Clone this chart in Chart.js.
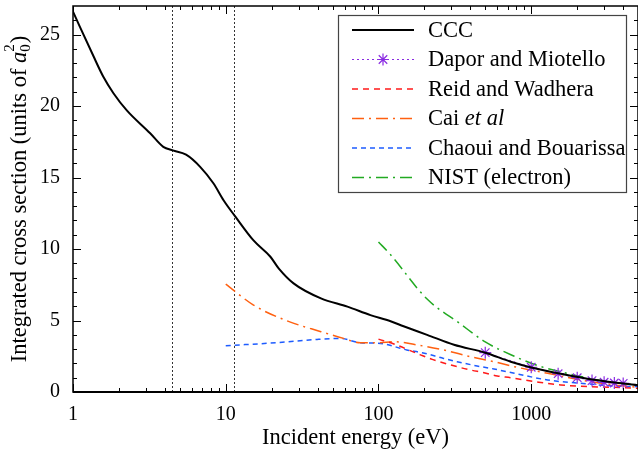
<!DOCTYPE html>
<html>
<head>
<meta charset="utf-8">
<script src="https://cdn.jsdelivr.net/npm/chart.js@4"></script>
<style>
html,body{margin:0;padding:0;background:#fff;}
#wrap{width:638px;height:449px;}
</style>
</head>
<body>
<div id="wrap"><canvas id="c" width="638" height="449"></canvas></div>
<script>
// ---- data ----
const cccEnergy = [1, 1.36, 1.58, 1.84, 2.25, 3.2, 3.9, 4.5, 5.5, 6.8, 8.3, 9.7, 11.5, 15.2, 19.6, 22.2, 27.8, 42, 62.6, 88.5, 120, 146, 208, 312, 500, 734, 1000, 1560, 2580, 5000];
const cccValues = [26.6, 23.5, 22.05, 20.9, 19.7, 18.1, 17.15, 16.9, 16.6, 15.75, 14.6, 13.4, 12.3, 10.6, 9.46, 8.65, 7.6, 6.55, 5.97, 5.38, 4.95, 4.6, 4.0, 3.3, 2.75, 2.12, 1.72, 1.28, 0.86, 0.48];

const daporEnergy = [500, 1000, 1500, 2000, 2500, 3000, 3500, 4000];
const daporValues = [2.75, 1.73, 1.28, 1.0, 0.8, 0.68, 0.63, 0.6];

const reidEnergy = [100, 126, 188, 225, 327, 400, 490, 600, 734, 1070, 1560, 2470, 3860, 5000];
const reidValues = [3.7, 3.36, 2.6, 2.28, 1.77, 1.54, 1.35, 1.12, 1.0, 0.72, 0.49, 0.37, 0.31, 0.26];

const caiEnergy = [10, 15.2, 25, 42, 59, 76, 100, 126, 179, 267, 400, 570, 775, 1280, 2100, 3500, 5000];
const caiValues = [7.55, 6.08, 4.99, 4.22, 3.75, 3.45, 3.45, 3.52, 3.29, 2.94, 2.47, 2.12, 1.77, 1.31, 0.84, 0.49, 0.33];

const chaouiEnergy = [10, 21.6, 39.6, 56, 76, 103, 153, 193, 267, 327, 442, 570, 775, 1280, 2100, 3500, 5000];
const chaouiValues = [3.24, 3.45, 3.68, 3.75, 3.45, 3.4, 2.94, 2.75, 2.35, 2.12, 1.82, 1.61, 1.31, 0.84, 0.61, 0.42, 0.37];

const nistEnergy = [100, 120, 208, 345, 500, 775, 1100, 1730, 2470, 3860, 5000];
const nistValues = [10.5, 9.6, 6.5, 4.75, 3.5, 2.5, 1.85, 1.3, 0.93, 0.62, 0.49];

const xTickLabels = [1, 10, 100, 1000];
const yTickLabels = [0, 5, 10, 15, 20, 25];
const thresholdEnergies = [4.45, 11.35];

const seriesNames = ["CCC", "Dapor and Miotello", "Reid and Wadhera", "Cai et al", "Chaoui and Bouarissa", "NIST (electron)"];

const pts = (xs, ys) => xs.map((x, i) => ({x: x, y: ys[i]}));

const SERIF = "'Liberation Serif', 'DejaVu Serif', serif";
const FS = 22.5;

const datasets = [
  {label: seriesNames[0], data: pts(cccEnergy, cccValues), borderColor: '#000000', borderWidth: 2, pointRadius: 0, cubicInterpolationMode: 'monotone', order: 0},
  {label: seriesNames[1], data: pts(daporEnergy, daporValues), borderColor: '#8a2be2', borderWidth: 1, borderDash: [2, 3], pointStyle: 'star', pointRadius: 6, pointBorderColor: '#8a2be2', pointBorderWidth: 1.2, order: 1},
  {label: seriesNames[2], data: pts(reidEnergy, reidValues), borderColor: '#ff1a1a', borderWidth: 1.5, borderDash: [6, 5], pointRadius: 0, cubicInterpolationMode: 'monotone', order: 2},
  {label: seriesNames[3], data: pts(caiEnergy, caiValues), borderColor: '#ff6010', borderWidth: 1.5, borderDash: [12, 5, 2, 5], pointRadius: 0, cubicInterpolationMode: 'monotone', order: 3},
  {label: seriesNames[4], data: pts(chaouiEnergy, chaouiValues), borderColor: '#1e5cff', borderWidth: 1.5, borderDash: [5, 4], pointRadius: 0, cubicInterpolationMode: 'monotone', order: 4},
  {label: seriesNames[5], data: pts(nistEnergy, nistValues), borderColor: '#22aa22', borderWidth: 1.5, borderDash: [12, 5, 2, 5], pointRadius: 0, cubicInterpolationMode: 'monotone', order: 5}
];

const decor = {
  id: 'decor',
  beforeDatasetsDraw(chart) {
    const ctx = chart.ctx, a = chart.chartArea, xs = chart.scales.x;
    ctx.save();
    ctx.strokeStyle = '#333';
    ctx.lineWidth = 1;
    ctx.setLineDash([2, 2]);
    thresholdEnergies.forEach(e => {
      const px = Math.round(xs.getPixelForValue(e)) + 0.5;
      ctx.beginPath(); ctx.moveTo(px, a.top); ctx.lineTo(px, a.bottom); ctx.stroke();
    });
    ctx.restore();
  },
  afterDraw(chart) {
    const ctx = chart.ctx, a = chart.chartArea, xs = chart.scales.x, ys = chart.scales.y;
    ctx.save();
    // ticks
    ctx.strokeStyle = '#000';
    ctx.lineWidth = 1;
    const xMin = xs.min, xMax = xs.max;
    for (let d = 1; d <= 1000; d *= 10) {
      for (let m = 1; m <= 9; m++) {
        const v = d * m;
        if (v < xMin || v > xMax) continue;
        const px = Math.round(xs.getPixelForValue(v)) + 0.5;
        const len = m === 1 ? 8 : 4;
        ctx.beginPath();
        ctx.moveTo(px, a.bottom); ctx.lineTo(px, a.bottom - len);
        ctx.moveTo(px, a.top); ctx.lineTo(px, a.top + len);
        ctx.stroke();
      }
    }
    for (let v = 1; v <= 26; v++) {
      const py = Math.round(ys.getPixelForValue(v)) + 0.5;
      const len = v % 5 === 0 ? 8 : 4;
      ctx.beginPath();
      ctx.moveTo(a.left, py); ctx.lineTo(a.left + len, py);
      ctx.moveTo(a.right, py); ctx.lineTo(a.right - len, py);
      ctx.stroke();
    }
    // frame
    ctx.lineWidth = 1.5;
    ctx.strokeRect(a.left, a.top, a.right - a.left, a.bottom - a.top);
    ctx.lineWidth = 2;
    ctx.beginPath(); ctx.moveTo(a.left, a.bottom); ctx.lineTo(a.right, a.bottom); ctx.stroke();

    // legend
    const lx = 338, ly = 15, lw = 288, lh = 177;
    ctx.fillStyle = '#fff';
    ctx.fillRect(lx, ly, lw, lh);
    ctx.strokeStyle = '#444';
    ctx.lineWidth = 1.2;
    ctx.setLineDash([]);
    ctx.strokeRect(lx + 0.5, ly + 0.5, lw, lh);
    const rowH = 29.5;
    chart.data.datasets.forEach((ds, i) => {
      const cy = ly + 15 + i * rowH;
      ctx.save();
      ctx.strokeStyle = ds.borderColor;
      ctx.lineWidth = ds.borderWidth;
      ctx.setLineDash(ds.borderDash || []);
      ctx.beginPath(); ctx.moveTo(352, cy); ctx.lineTo(414, cy); ctx.stroke();
      ctx.restore();
      if (ds.pointStyle === 'star') {
        ctx.save();
        ctx.strokeStyle = ds.pointBorderColor; ctx.lineWidth = 1.2; ctx.setLineDash([]);
        Chart.helpers.drawPoint(ctx, {pointStyle: 'star', radius: 6, borderWidth: 1.2}, 383, cy);
        ctx.restore();
      }
      ctx.fillStyle = '#000';
      ctx.textBaseline = 'middle';
      ctx.textAlign = 'left';
      ctx.font = FS + 'px ' + SERIF;
      if (ds.label === 'Cai et al') {
        ctx.fillText('Cai ', 428, cy + 1);
        const w = ctx.measureText('Cai ').width;
        ctx.font = 'italic ' + FS + 'px ' + SERIF;
        ctx.fillText('et al', 428 + w, cy + 1);
      } else {
        ctx.fillText(ds.label, 428, cy + 1);
      }
    });

    // x title
    ctx.fillStyle = '#000';
    ctx.font = FS + 'px ' + SERIF;
    ctx.textAlign = 'center';
    ctx.textBaseline = 'middle';
    ctx.fillText('Incident energy (eV)', (a.left + a.right) / 2, 438);

    // y title with a_0^2
    ctx.save();
    ctx.translate(20, (a.top + a.bottom) / 2);
    ctx.rotate(-Math.PI / 2);
    ctx.textAlign = 'left';
    ctx.textBaseline = 'middle';
    const p1 = 'Integrated cross section (units of ';
    ctx.font = FS + 'px ' + SERIF;
    const w1 = ctx.measureText(p1).width;
    ctx.font = 'italic ' + FS + 'px ' + SERIF;
    const wa = ctx.measureText('a').width;
    ctx.font = '15px ' + SERIF;
    const ws = ctx.measureText('0').width;
    ctx.font = FS + 'px ' + SERIF;
    const wp = ctx.measureText(')').width;
    const total = w1 + wa + ws + 1 + wp;
    let x0 = -total / 2;
    ctx.fillText(p1, x0, 0); x0 += w1;
    ctx.font = 'italic ' + FS + 'px ' + SERIF;
    ctx.fillText('a', x0, 0); x0 += wa;
    ctx.font = '15px ' + SERIF;
    ctx.fillText('0', x0, 6);
    ctx.fillText('2', x0, -10);
    x0 += ws + 1;
    ctx.font = FS + 'px ' + SERIF;
    ctx.fillText(')', x0, 0);
    ctx.restore();

    ctx.restore();
  }
};

new Chart(document.getElementById('c'), {
  type: 'line',
  data: {datasets: datasets},
  options: {
    responsive: false,
    animation: false,
    layout: {autoPadding: false, padding: {left: 0, right: 0, top: 6, bottom: 0}},
    plugins: {legend: {display: false}, tooltip: {enabled: false}, title: {display: false}},
    elements: {line: {tension: 0}},
    scales: {
      x: {
        type: 'logarithmic',
        min: 1, max: 5000,
        grid: {display: false, drawTicks: false},
        border: {display: false},
        afterBuildTicks: s => { s.ticks = xTickLabels.map(v => ({value: v})); },
        afterFit: s => { s.height = 57; s.paddingLeft = 0; s.paddingRight = 0; s.paddingTop = 0; s.paddingBottom = 0; },
        ticks: {
          autoSkip: false, maxRotation: 0, padding: 11, color: '#000',
          font: {family: SERIF, size: 20},
          callback: v => String(v)
        }
      },
      y: {
        type: 'linear',
        min: 0, max: 27,
        grid: {display: false, drawTicks: false},
        border: {display: false},
        afterBuildTicks: s => { s.ticks = yTickLabels.map(v => ({value: v})); },
        afterFit: s => { s.width = 73; s.paddingLeft = 0; s.paddingRight = 0; s.paddingTop = 0; s.paddingBottom = 0; },
        ticks: {padding: 13, color: '#000', font: {family: SERIF, size: 20}}
      }
    }
  },
  plugins: [decor]
});
</script>
</body>
</html>
